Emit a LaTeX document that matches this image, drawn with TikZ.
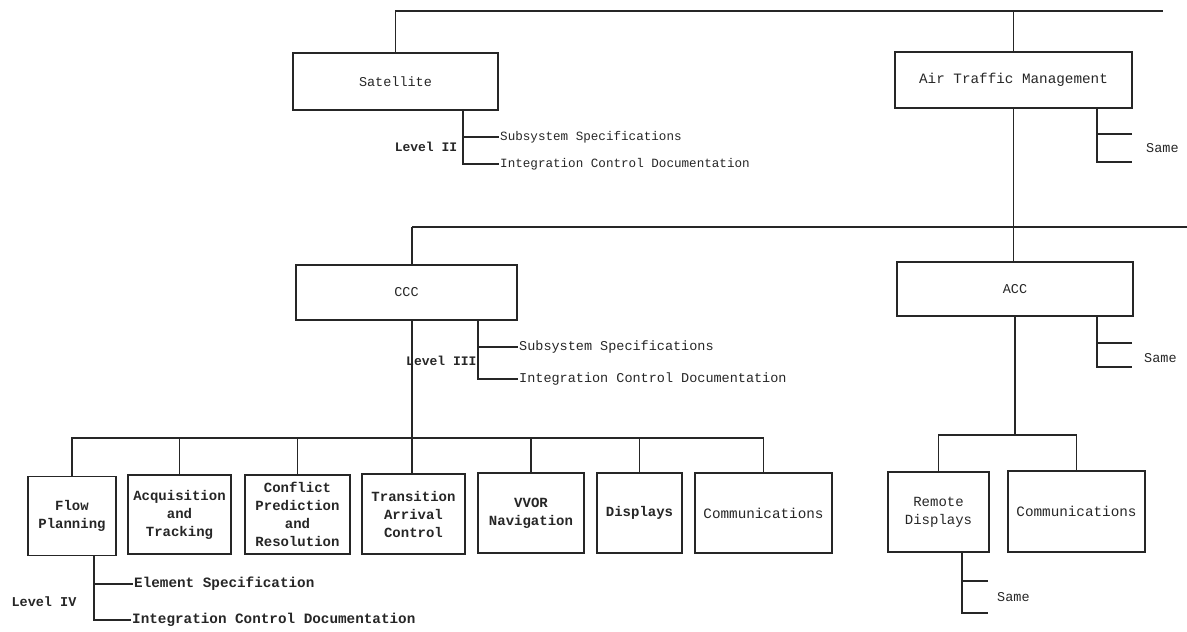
\documentclass[tikz,border=0pt]{standalone}
\usepackage{fontspec}
\setmonofont{Liberation Mono}
\definecolor{ink}{HTML}{262626}
\begin{document}
\begin{tikzpicture}[x=1pt,y=-1pt,
  box/.style={draw=ink, line width=1.6pt, inner sep=0pt, align=center, text=ink,
    font=\ttfamily\fontsize{13.5}{18}\selectfont},
  lowbox/.style={box, font=\ttfamily\bfseries\fontsize{14}{18}\selectfont},
  lbl/.style={inner sep=1pt, anchor=west, text=ink, font=\ttfamily\fontsize{13.5}{16}\selectfont},
  smalllbl/.style={lbl, font=\ttfamily\fontsize{12.6}{16}\selectfont},
  levlbl/.style={inner sep=1pt, text=ink, font=\ttfamily\bfseries\fontsize{13}{16}\selectfont},
  wire/.style={draw=ink, line width=1.1pt}]
\useasboundingbox (0,0) rectangle (1187,632);
% boxes
\node[box, minimum width=205pt, minimum height=57pt] (sat) at (395.5,81.5) {Satellite};
\node[box, minimum width=237pt, minimum height=56pt, font=\ttfamily\fontsize{14.3}{18}\selectfont] (atm) at (1013.5,80) {Air Traffic Management};
\node[box, minimum width=221pt, minimum height=55pt] (ccc) at (406.5,292.5) {CCC};
\node[box, minimum width=236pt, minimum height=54pt] (acc) at (1015,289) {ACC};
\node[lowbox, minimum width=88pt, minimum height=79pt] (flow) at (72,516) {Flow\\Planning};
\node[lowbox, minimum width=103pt, minimum height=79pt] (acq) at (179.5,514.5) {Acquisition\\and\\Tracking};
\node[lowbox, minimum width=105pt, minimum height=79pt] (cpr) at (297.5,514.5) {Conflict\\Prediction\\and\\Resolution};
\node[lowbox, minimum width=103pt, minimum height=80pt] (tac) at (413.5,514) {Transition\\Arrival\\Control};
\node[lowbox, minimum width=106pt, minimum height=80pt] (vvor) at (531,513) {VVOR\\Navigation};
\node[lowbox, minimum width=85pt, minimum height=80pt] (disp) at (639.5,513) {Displays};
\node[box, minimum width=137pt, minimum height=80pt, font=\ttfamily\fontsize{14.3}{18}\selectfont] (comm) at (763.5,513) {Communications};
\node[box, minimum width=101pt, minimum height=80pt, font=\ttfamily\fontsize{14}{18}\selectfont] (rdisp) at (938.5,512) {Remote\\Displays};
\node[box, minimum width=137pt, minimum height=81pt, font=\ttfamily\fontsize{14.3}{18}\selectfont] (comm2) at (1076.5,511.5) {Communications};
% labels
\node[levlbl] (lv2) at (426,147) {Level II};
\node[smalllbl] (ss2) at (499,137) {Subsystem Specifications};
\node[smalllbl] (icd2) at (499,164) {Integration Control Documentation};
\node[lbl] (same1) at (1145,148) {Same};
\node[levlbl, anchor=west] (lv3) at (405,361) {Level III};
\node[lbl] (ss3) at (518,347) {Subsystem Specifications};
\node[lbl] (icd3) at (518,379) {Integration Control Documentation};
\node[lbl] (same2) at (1143,358) {Same};
\node[lbl] (same3) at (996,597) {Same};
\node[lbl, font=\ttfamily\bfseries\fontsize{14.3}{16}\selectfont] (es4) at (133,584) {Element Specification};
\node[lbl, font=\ttfamily\bfseries\fontsize{14.3}{16}\selectfont] (icd4) at (131,620) {Integration Control Documentation};
\node[levlbl, font=\ttfamily\bfseries\fontsize{13.5}{16}\selectfont] (lv4) at (44,602) {Level IV};
% top bus
\coordinate (t1) at (1163,11);
\draw[wire] (sat.north) |- (t1);
\draw[wire] (atm.north) -- (atm.north |- t1);
% middle bus
\coordinate (m1) at (1187,227);
\coordinate (cspine) at (412,227);
\draw[wire] (cspine) -- (m1);
\draw[wire] (cspine) -- (cspine |- ccc.north);
\draw[wire] (atm.south) -- (atm.south |- acc.north);
% CCC children
\coordinate (b1) at (0,438);
\draw[wire] (ccc.south -| cspine) -- (tac.north -| cspine);
\draw[wire] (flow.north) |- (comm.north |- b1) -- (comm.north);
\foreach \n in {acq,cpr,vvor,disp} \draw[wire] (\n.north) -- (\n.north |- b1);
% ACC children
\coordinate (b2) at (0,435);
\draw[wire] (acc.south) -- (acc.south |- b2);
\draw[wire] (rdisp.north) |- (comm2.north |- b2) -- (comm2.north);
% Level II bracket
\coordinate (k2) at (463,0);
\draw[wire] (sat.south -| k2) |- (ss2.west);
\draw[wire] (sat.south -| k2) |- (icd2.west);
% ATM bracket
\coordinate (kr) at (1097,0);
\coordinate (sa) at (1132,134);
\coordinate (sb) at (1132,162);
\draw[wire] (sa) -| (atm.south -| kr);
\draw[wire] (atm.south -| kr) |- (sb);
% Level III bracket
\coordinate (k3) at (478,0);
\draw[wire] (ccc.south -| k3) |- (ss3.west);
\draw[wire] (ccc.south -| k3) |- (icd3.west);
% ACC bracket
\coordinate (sa2) at (1132,343);
\coordinate (sb2) at (1132,367);
\draw[wire] (sa2) -| (acc.south -| kr);
\draw[wire] (acc.south -| kr) |- (sb2);
% Remote Displays bracket
\coordinate (k5) at (962,0);
\coordinate (sa3) at (988,581);
\coordinate (sb3) at (988,613);
\draw[wire] (sa3) -| (rdisp.south -| k5);
\draw[wire] (rdisp.south -| k5) |- (sb3);
% Level IV bracket
\coordinate (k4) at (94,0);
\draw[wire] (flow.south -| k4) |- (es4.west);
\draw[wire] (flow.south -| k4) |- (icd4.west);
\end{tikzpicture}
\end{document}
